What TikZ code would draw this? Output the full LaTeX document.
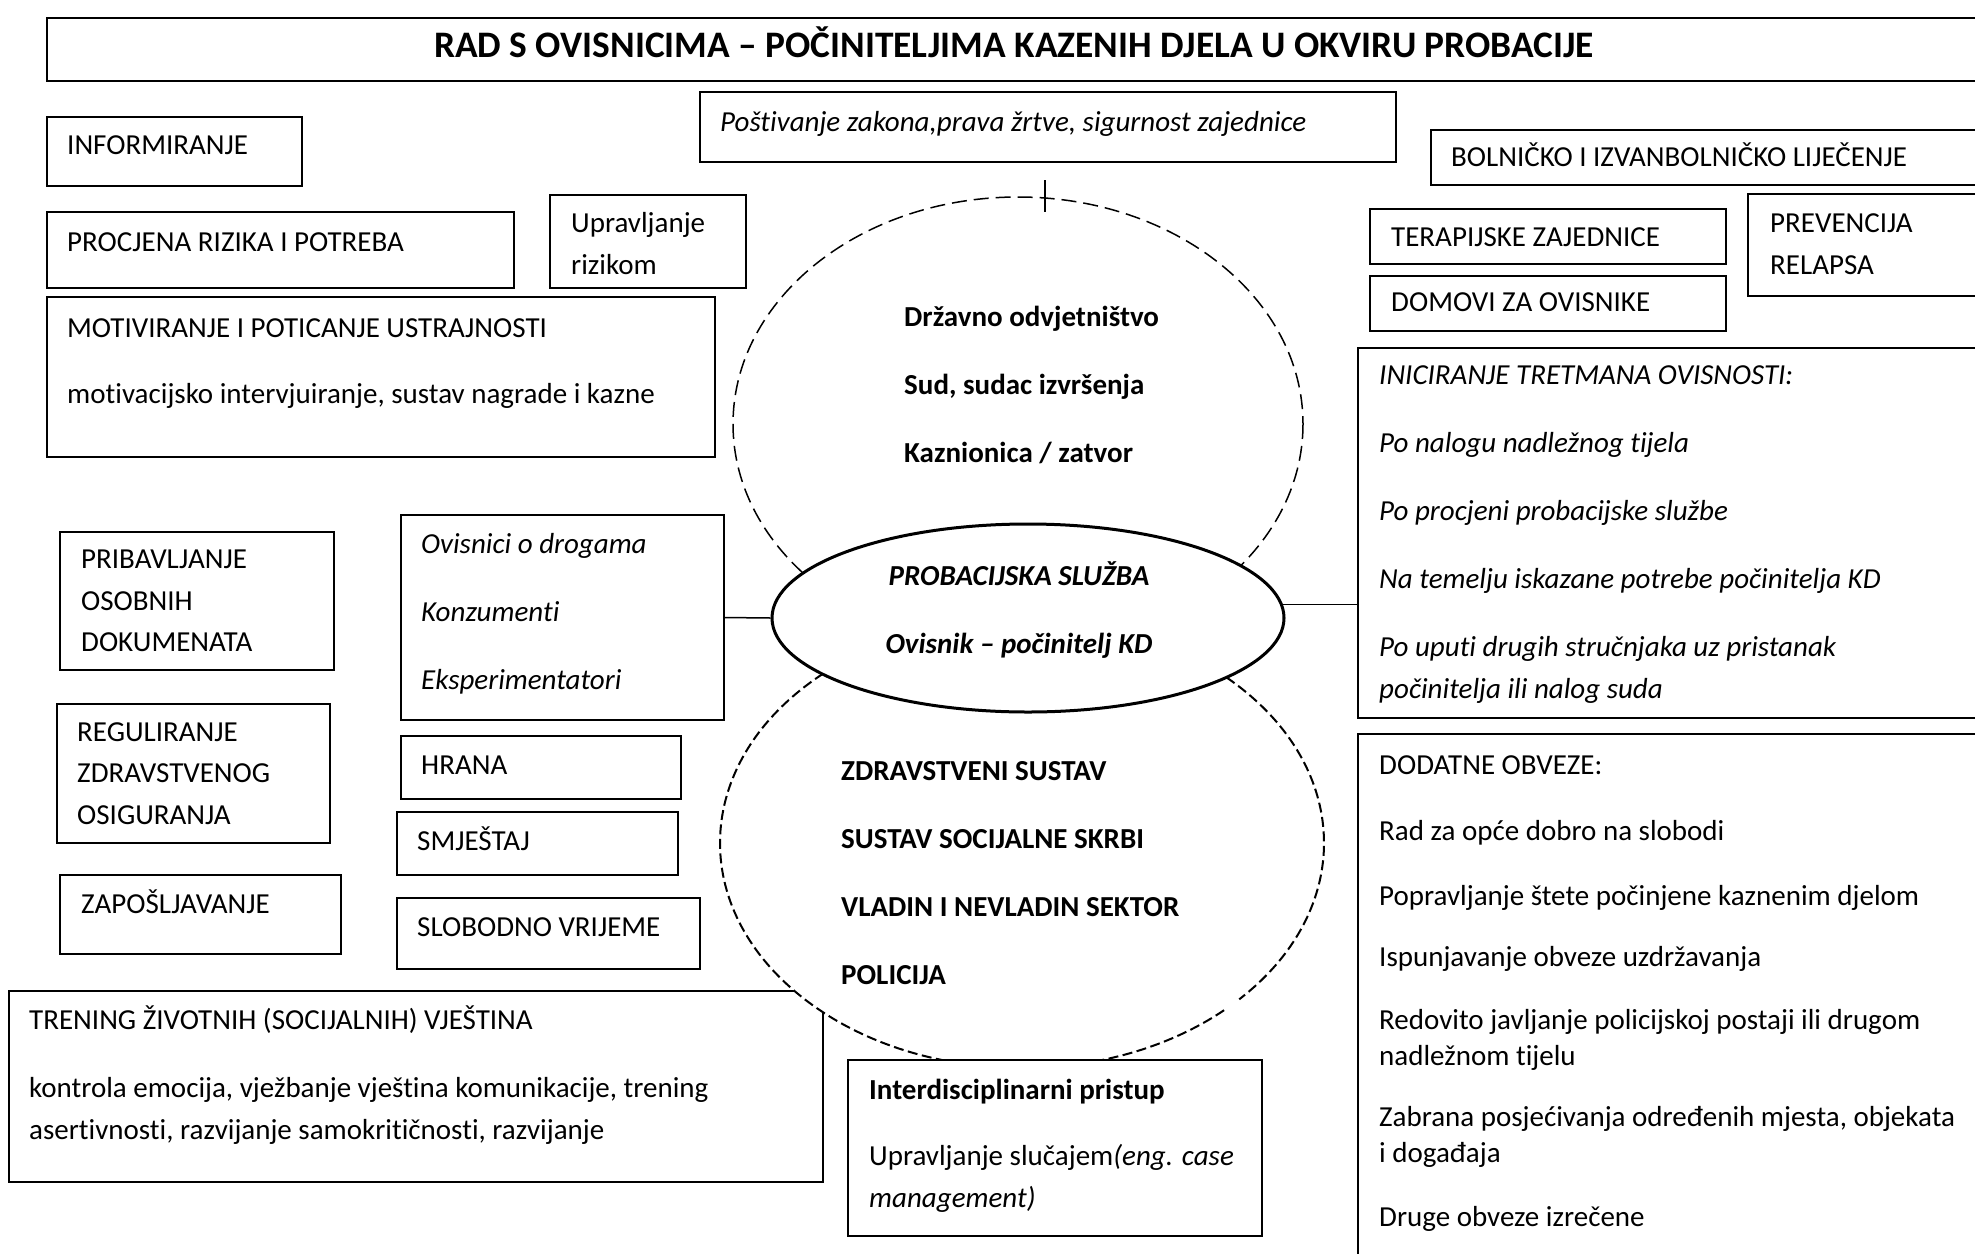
\documentclass[tikz,border=0pt]{standalone}
\usepackage{fontspec}
\setmainfont{Carlito}[Ligatures={CommonOff,RareOff}, Contextuals=AlternateOff]
\usetikzlibrary{shapes.geometric}

\tikzset{
  box/.style={draw, fill=white, line width=1.5pt, anchor=north west, inner sep=0pt, outer sep=0pt},
  lbl/.style={anchor=base west, inner sep=0pt, font=\fontsize{29}{36}\selectfont},
  upgrp/.style={draw, fill=white, line width=1.5pt, dash pattern=on 15pt off 7pt},
  lowgrp/.style={line width=2pt, dash pattern=on 10pt off 4.5pt}
}

\begin{document}
\begin{tikzpicture}[x=1pt, y=-1pt]
\useasboundingbox (0,0) rectangle (1975,1253);

% boxes
\node[box, minimum width=1960pt, minimum height=63pt] (title) at (47,18) {};
\node[box, minimum width=696pt, minimum height=70pt] (zakon) at (700,92) {};
\node[box, minimum width=255pt, minimum height=69pt] (info) at (47,117) {};
\node[box, minimum width=600pt, minimum height=55pt] (bolnica) at (1431,130) {};
\node[box, minimum width=467pt, minimum height=76pt] (procjena) at (47,212) {};
\node[box, minimum width=196pt, minimum height=93pt] (rizik) at (550,195) {};
\node[box, minimum width=356pt, minimum height=55pt] (terap) at (1370,209) {};
\node[box, minimum width=300pt, minimum height=102pt] (relaps) at (1748,194) {};
\node[box, minimum width=356pt, minimum height=55pt] (domovi) at (1370,276) {};
\node[box, minimum width=668pt, minimum height=160pt] (motiv) at (47,297) {};
\node[box, minimum width=700pt, minimum height=370pt] (inic) at (1358,348) {};
\node[box, minimum width=700pt, minimum height=600pt] (dod) at (1358,734) {};
\node[box, minimum width=274pt, minimum height=138pt] (pribav) at (60,532) {};
\node[box, minimum width=323pt, minimum height=205pt] (ovis) at (401,515) {};
\node[box, minimum width=273pt, minimum height=139pt] (regul) at (57,704) {};
\node[box, minimum width=280pt, minimum height=63pt] (hrana) at (401,736) {};
\node[box, minimum width=281pt, minimum height=63pt] (smjestaj) at (397,812) {};
\node[box, minimum width=281pt, minimum height=79pt] (zaposl) at (60,875) {};
\node[box, minimum width=303pt, minimum height=71pt] (slob) at (397,898) {};
\node[box, minimum width=814pt, minimum height=191pt] (trening) at (9,991) {};

% dashed groups round the probation service
\draw[upgrp] (1018,424) ellipse [x radius=285, y radius=227];
\fill[white] (1022,843) ellipse [x radius=302, y radius=225];
\draw[lowgrp] (1022,843) ++(48:302 and 225) arc [start angle=48, end angle=404, x radius=302, y radius=225];
\node[draw, ellipse, line width=3pt, fill=white, inner sep=0pt,
      minimum width=512pt, minimum height=188pt] (prob) at (1028,618) {};
\node[box, minimum width=414pt, minimum height=176pt] (inter) at (848,1060) {};

% connectors
\coordinate (tick) at (1045,180);
\draw[line width=1.5pt] (tick) -- ++(0,32);
\draw[line width=1.5pt] (ovis.east) -- (prob.west);
\draw[line width=1.5pt] (prob.3) -- (prob.3 -| inic.west);

% texts
\node[anchor=base, inner sep=0pt, font=\bfseries\fontsize{37.4}{44}\selectfont] (title-t) at (1014,57)
  {RAD S OVISNICIMA – POČINITELJIMA KAZENIH DJELA U OKVIRU PROBACIJE};
\node[lbl] (zakon-t) at (720,131) {\itshape Poštivanje zakona,prava žrtve, sigurnost zajednice};
\node[lbl] (info-t) at (67,154) {INFORMIRANJE};
\node[lbl] (bolnica-t) at (1451,166) {BOLNIČKO I IZVANBOLNIČKO LIJEČENJE};
\node[lbl] (procjena-t) at (67,251) {PROCJENA RIZIKA I POTREBA};
\node[lbl] (rizik-t1) at (571,232) {Upravljanje};
\node[lbl] (rizik-t2) at (571,274) {rizikom};
\node[lbl] (terap-t) at (1391,246) {TERAPIJSKE ZAJEDNICE};
\node[lbl] (relaps-t1) at (1770,232) {PREVENCIJA};
\node[lbl] (relaps-t2) at (1770,274) {RELAPSA};
\node[lbl] (domovi-t) at (1391,311) {DOMOVI ZA OVISNIKE};
\node[lbl] (motiv-t1) at (67,337) {MOTIVIRANJE I POTICANJE USTRAJNOSTI};
\node[lbl] (motiv-t2) at (67,403) {motivacijsko intervjuiranje, sustav nagrade i kazne};

\foreach \y/\t [count=\i] in {326/{Državno odvjetništvo}, 394/{Sud, sudac izvršenja}, 462/{Kaznionica / zatvor}}
  \node[lbl, font=\bfseries\fontsize{29}{36}\selectfont] (drz\i) at (904,\y) {\t};
\node[anchor=base, inner sep=0pt, font=\bfseries\itshape\fontsize{29}{36}\selectfont] (prob-t1) at (1019,585) {PROBACIJSKA SLUŽBA};
\node[anchor=base, inner sep=0pt, font=\bfseries\itshape\fontsize{29}{36}\selectfont] (prob-t2) at (1019,653) {Ovisnik – počinitelj KD};
\foreach \y/\t [count=\i] in {780/ZDRAVSTVENI SUSTAV, 848/SUSTAV SOCIJALNE SKRBI, 916/VLADIN I NEVLADIN SEKTOR, 984/POLICIJA}
  \node[lbl, font=\bfseries\fontsize{29}{36}\selectfont] (sust\i) at (841,\y) {\t};

\foreach \y/\t [count=\i] in {384/INICIRANJE TRETMANA OVISNOSTI:, 452/Po nalogu nadležnog tijela,
    520/Po procjeni probacijske službe, 588/Na temelju iskazane potrebe počinitelja KD,
    656/Po uputi drugih stručnjaka uz pristanak, 698/počinitelja ili nalog suda}
  \node[lbl, font=\itshape\fontsize{29}{36}\selectfont] (inic\i) at (1379,\y) {\t};
\foreach \y/\t [count=\i] in {774/DODATNE OBVEZE:, 840/Rad za opće dobro na slobodi,
    905/Popravljanje štete počinjene kaznenim djelom, 966/Ispunjavanje obveze uzdržavanja,
    1029/Redovito javljanje policijskoj postaji ili drugom, 1065/nadležnom tijelu,
    1126/{Zabrana posjećivanja određenih mjesta, objekata}, 1162/i događaja, 1226/Druge obveze izrečene}
  \node[lbl] (dod\i) at (1379,\y) {\t};

\foreach \y/\t [count=\i] in {568/PRIBAVLJANJE, 610/OSOBNIH, 651/DOKUMENATA}
  \node[lbl] (pribav\i) at (81,\y) {\t};
\foreach \y/\t [count=\i] in {553/Ovisnici o drogama, 621/Konzumenti, 689/Eksperimentatori}
  \node[lbl, font=\itshape\fontsize{29}{36}\selectfont] (ovis\i) at (421,\y) {\t};
\foreach \y/\t [count=\i] in {741/REGULIRANJE, 782/ZDRAVSTVENOG, 824/OSIGURANJA}
  \node[lbl] (regul\i) at (77,\y) {\t};
\node[lbl] (hrana-t) at (421,774) {HRANA};
\node[lbl] (smjestaj-t) at (417,850) {SMJEŠTAJ};
\node[lbl] (zaposl-t) at (81,913) {ZAPOŠLJAVANJE};
\node[lbl] (slob-t) at (417,936) {SLOBODNO VRIJEME};

\node[lbl] (trening-t1) at (29,1029) {TRENING ŽIVOTNIH (SOCIJALNIH) VJEŠTINA};
\node[lbl] (trening-t2) at (29,1097) {kontrola emocija, vježbanje vještina komunikacije, trening};
\node[lbl] (trening-t3) at (29,1139) {asertivnosti, razvijanje samokritičnosti, razvijanje};

\node[lbl, font=\bfseries\fontsize{29}{36}\selectfont] (inter-t1) at (869,1099) {Interdisciplinarni pristup};
\node[lbl] (inter-t2) at (869,1165) {Upravljanje slučajem\textit{(eng. case}};
\node[lbl] (inter-t3) at (869,1207) {\itshape management)};

\end{tikzpicture}
\end{document}
